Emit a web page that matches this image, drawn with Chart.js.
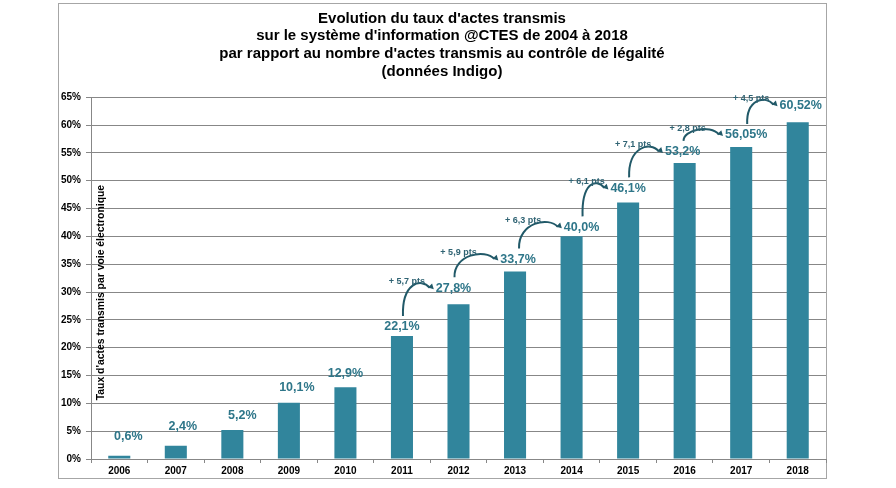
<!DOCTYPE html>
<html>
<head>
<meta charset="utf-8">
<script src="https://cdn.jsdelivr.net/npm/chart.js@4.4.1/dist/chart.umd.min.js"></script>
<style>
  html, body { margin: 0; padding: 0; background: #fff; }
</style>
</head>
<body>
<canvas id="myChart" width="896" height="488"></canvas>
<script>
// données
const annees = ["2006", "2007", "2008", "2009", "2010", "2011", "2012", "2013", "2014", "2015", "2016", "2017", "2018"];
const taux = [0.6, 2.4, 5.2, 10.1, 12.9, 22.1, 27.8, 33.7, 40.0, 46.1, 53.2, 56.05, 60.52];
const etiquettes = ["0,6%", "2,4%", "5,2%", "10,1%", "12,9%", "22,1%", "27,8%", "33,7%", "40,0%", "46,1%", "53,2%", "56,05%", "60,52%"];
// gain affiché sur la flèche allant de l'année i à l'année i+1
const gains = ["", "", "", "", "", "+ 5,7 pts", "+ 5,9 pts", "+ 6,3 pts", "+ 6,1 pts", "+ 7,1 pts", "+ 2,8 pts", "+ 4,5 pts", ""];
const titre = [
    "Evolution du taux d'actes transmis",
    "sur le système d'information @CTES de 2004 à 2018",
    "par rapport au nombre d'actes transmis au contrôle de légalité",
    "(données Indigo)"
];
const titreAxe = "Taux d'actes transmis par voie électronique";

// décalage des étiquettes (placées à la main dans l'original)
const decalages = [[9, 19], [7, 19], [10, 15], [8, 15], [0, 14], [0, 9], [-5, 16], [3, 12], [10, 9], [0, 14], [-2, 11], [5, 12], [3, 17]];

const police = "'Liberation Sans', Arial, sans-serif";
const gris = "#878787";

// cadre autour du graphique
const cadre = {
    id: "cadre",
    beforeDraw(chart) {
        const c = chart.ctx;
        c.save();
        c.fillStyle = "#fff";
        c.fillRect(0, 0, chart.width, chart.height);
        c.strokeStyle = "#a6a6a6";
        c.lineWidth = 1;
        c.strokeRect(58.5, 3.5, 768, 475);
        c.restore();
    }
};

// étiquettes de valeurs, flèches et titre de l'axe
const annotations = {
    id: "annotations",
    afterDatasetsDraw(chart) {
        const c = chart.ctx;
        const barres = chart.getDatasetMeta(0).data;
        const area = chart.chartArea;
        c.save();

        // titre de l'axe Y, à l'intérieur de la zone de traçage
        c.save();
        c.translate(area.left + 10, area.top + 0.54 * (area.bottom - area.top));
        c.rotate(-Math.PI / 2);
        c.font = "bold 10.4px " + police;
        c.fillStyle = "#000";
        c.textAlign = "center";
        c.textBaseline = "middle";
        c.fillText(titreAxe, 0, 0);
        c.restore();

        c.font = "bold 12.5px " + police;
        c.textAlign = "center";
        c.textBaseline = "middle";
        const pos = barres.map((b, i) => {
            const x = b.x + decalages[i][0];
            const y = b.y - decalages[i][1];
            const w = c.measureText(etiquettes[i]).width;
            return { x, y, w };
        });
        c.fillStyle = "#2E7689";
        pos.forEach((p, i) => c.fillText(etiquettes[i], p.x, p.y));

        // flèches de progression
        c.strokeStyle = "#215968";
        c.fillStyle = "#215968";
        c.lineWidth = 2;
        gains.forEach((g, i) => {
            if (!g) return;
            const s = pos[i], t = pos[i + 1];
            const x0 = s.x + 1, y0 = s.y - 11;
            const x3 = t.x - t.w / 2 - 3, y3 = t.y + 1;
            const haut = Math.min(y0, y3) - 7;
            const x1 = x0 - 1, y1 = haut + 1;
            const x2 = x3 - 12, y2 = haut - 5;
            c.beginPath();
            c.moveTo(x0, y0);
            c.bezierCurveTo(x1, y1, x2, y2, x3 - 3, y3 - 1.5);
            c.stroke();
            // pointe
            const ang = Math.atan2(y3 - y2, x3 - x2);
            c.beginPath();
            c.moveTo(x3 + 1, y3);
            c.lineTo(x3 + 1 - 6 * Math.cos(ang - 0.5), y3 - 6 * Math.sin(ang - 0.5));
            c.lineTo(x3 + 1 - 6 * Math.cos(ang + 0.5), y3 - 6 * Math.sin(ang + 0.5));
            c.closePath();
            c.fill();

            c.save();
            c.font = "bold 9px " + police;
            c.fillStyle = "#2f6373";
            c.fillText(g, s.x + 5, haut - 1);
            c.restore();
        });
        c.restore();
    }
};

const ctx = document.getElementById("myChart").getContext("2d");
const myChart = new Chart(ctx, {
    type: "bar",
    data: {
        labels: annees,
        datasets: [{
            data: taux,
            backgroundColor: "#31859C",
            borderWidth: 0,
            barPercentage: 0.39,
            categoryPercentage: 1
        }]
    },
    options: {
        responsive: false,
        animation: false,
        layout: { padding: { left: 58, right: 70, top: 0, bottom: 0 } },
        plugins: {
            legend: { display: false },
            tooltip: { enabled: false },
            title: {
                display: true,
                text: titre,
                color: "#000",
                font: { family: police, size: 15, weight: "bold", lineHeight: 1.17 },
                padding: { top: 10, bottom: 17 }
            }
        },
        scales: {
            x: {
                grid: { display: true, drawOnChartArea: false, offset: true, tickLength: 4, color: gris },
                border: { color: gris },
                ticks: { color: "#000", font: { family: police, size: 10, weight: "bold" }, padding: 2, maxRotation: 0 },
                afterFit(scale) { scale.height = 29; }
            },
            y: {
                min: 0,
                max: 65,
                ticks: {
                    stepSize: 5,
                    color: "#000",
                    padding: 5,
                    font: { family: police, size: 10, weight: "bold" },
                    callback: v => v + "%"
                },
                grid: { color: gris, tickLength: 5 },
                border: { color: gris },
                afterFit(scale) { scale.width = 33; }
            }
        }
    },
    plugins: [cadre, annotations]
});
</script>
</body>
</html>
